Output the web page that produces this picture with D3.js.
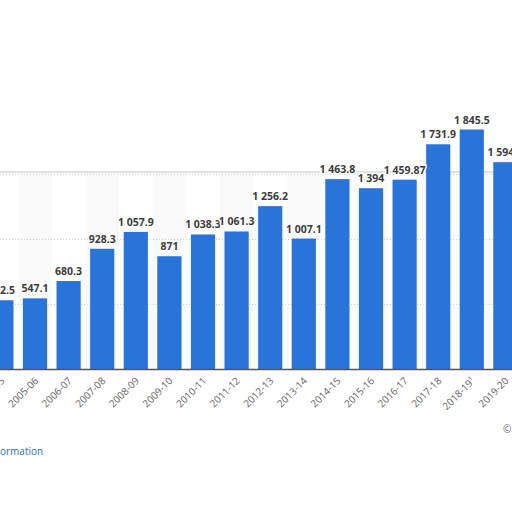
<!DOCTYPE html>
<html><head><meta charset="utf-8">
<script src="https://cdn.jsdelivr.net/npm/d3@7"></script>
<style>body{margin:0;background:#fff;overflow:hidden}</style>
</head><body>
<script>
'use strict';
const categories = ["2004-05","2005-06","2006-07","2007-08","2008-09","2009-10","2010-11","2011-12","2012-13","2013-14","2014-15","2015-16","2016-17","2017-18","2018-19¹","2019-20","2020-21"];
const values = [532.5,547.1,680.3,928.3,1057.9,871,1038.3,1061.3,1256.2,1007.1,1463.8,1394,1459.87,1731.9,1845.5,1594.2,1500];
const valueLabels = ["532.5","547.1","680.3","928.3","1 057.9","871","1 038.3","1 061.3","1 256.2","1 007.1","1 463.8","1 394","1 459.87","1 731.9","1 845.5","1 594.2","1 500"];
const yTicks = [500, 1000, 1500];

const width = 512, height = 512;
const step = 33.6;
const svg = d3.select('body').append('svg').attr('width', width).attr('height', height);

const x = d3.scaleBand().domain(categories)
  .range([-15.4, -15.4 + step * categories.length]).paddingInner(0.28).paddingOuter(0.14);
const y = d3.scaleLinear().domain([0, 1845.5]).range([369.5, 129.5]);

// panel (bottom edge off-screen)
svg.append('rect').attr('x', -6).attr('y', 172).attr('width', 530).attr('height', 400)
  .attr('rx', 6).attr('fill', '#fff').attr('stroke', '#d8d8d8').attr('stroke-width', 1.5);

// faint column stripes
svg.append('g').selectAll('rect').data(categories.filter((d, i) => i % 2 === 1)).enter()
  .append('rect')
  .attr('x', d => x(d) + x.bandwidth() / 2 - step / 2)
  .attr('y', 173).attr('width', step).attr('height', 369.5 - 173)
  .attr('fill', '#fafafa');

// grid
svg.append('g').selectAll('line').data(yTicks).enter().append('line')
  .attr('x1', 0).attr('x2', width).attr('y1', d => y(d)).attr('y2', d => y(d))
  .attr('stroke', '#cfcfcf').attr('stroke-dasharray', '1,2');

// bars
svg.append('g').selectAll('rect').data(values).enter().append('rect')
  .attr('x', (d, i) => x(categories[i])).attr('width', x.bandwidth())
  .attr('y', d => y(d)).attr('height', d => y(0) - y(d))
  .attr('fill', '#2874d9');

// axis line
svg.append('line').attr('x1', 0).attr('x2', width).attr('y1', y(0)).attr('y2', y(0))
  .attr('stroke', '#555').attr('stroke-width', 1.5);

// value labels with halo
svg.append('g').selectAll('text').data(values).enter().append('text')
  .attr('x', (d, i) => x(categories[i]) + x.bandwidth() / 2)
  .attr('y', d => y(d) - 6)
  .attr('text-anchor', 'middle')
  .style('font-family', 'Open Sans, sans-serif').style('font-size', '10.5px').style('font-weight', 'bold')
  .attr('fill', '#3c3c3c').attr('stroke', '#fff').attr('stroke-width', 3).attr('paint-order', 'stroke')
  .text((d, i) => valueLabels[i]);

// category labels
svg.append('g').selectAll('text').data(categories).enter().append('text')
  .attr('transform', d => 'translate(' + (x(d) + x.bandwidth() / 2 + 4) + ',' + (y(0) + 12) + ') rotate(-45)')
  .attr('text-anchor', 'end')
  .style('font-family', 'Open Sans, sans-serif').style('font-size', '10px')
  .attr('fill', '#666')
  .text(d => d);

// footer
svg.append('text').attr('x', 0).attr('y', 455)
  .style('font-family', 'Open Sans, sans-serif').style('font-size', '10px').attr('fill', '#1f6fb5')
  .text('ormation');
svg.append('text').attr('x', 503).attr('y', 433)
  .style('font-family', 'Open Sans, sans-serif').style('font-size', '10px').attr('fill', '#666')
  .text('©');
</script>
</body></html>
